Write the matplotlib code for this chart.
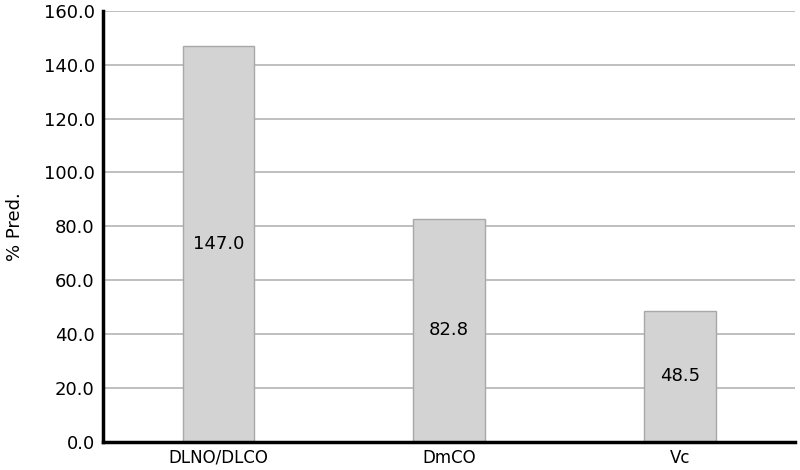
import matplotlib
matplotlib.use("Agg")
import matplotlib.pyplot as plt

categories = ["DLNO/DLCO", "DmCO", "Vc"]
values = [147.0, 82.8, 48.5]
yticks = [0, 20, 40, 60, 80, 100, 120, 140, 160]

fig = plt.figure(figsize=(8, 4.7), dpi=100)
ax = fig.add_axes([0.129, 0.06, 0.865, 0.917])
x = list(range(len(categories)))
ax.bar(x, values, width=0.31, color="#d3d3d3", edgecolor="#a8a8a8", linewidth=1, zorder=2)
for xi, v in zip(x, values):
    ax.text(xi, v / 2, f"{v:.1f}", ha="center", va="center", fontsize=13, color="black", zorder=3)
ax.set_xlim(-0.5, 2.5)
ax.set_ylim(0, 160)
ax.set_yticks(yticks)
ax.set_yticklabels([f"{t:.1f}" for t in yticks], fontsize=13)
ax.set_xticks(x)
ax.set_xticklabels(categories, fontsize=12)
ax.tick_params(axis="y", length=0, pad=6)
ax.tick_params(axis="x", length=0, pad=5)
ax.yaxis.grid(True, color="#b4b4b4", linewidth=1.2, zorder=0)
ax.set_axisbelow(True)
for s in ["top", "right"]:
    ax.spines[s].set_visible(False)
for s in ["left", "bottom"]:
    ax.spines[s].set_linewidth(2.5)
    ax.spines[s].set_color("black")
    ax.spines[s].set_zorder(4)
ax.set_ylabel("% Pred.", fontsize=13, labelpad=14)
fig.savefig("out.png", dpi=100)
